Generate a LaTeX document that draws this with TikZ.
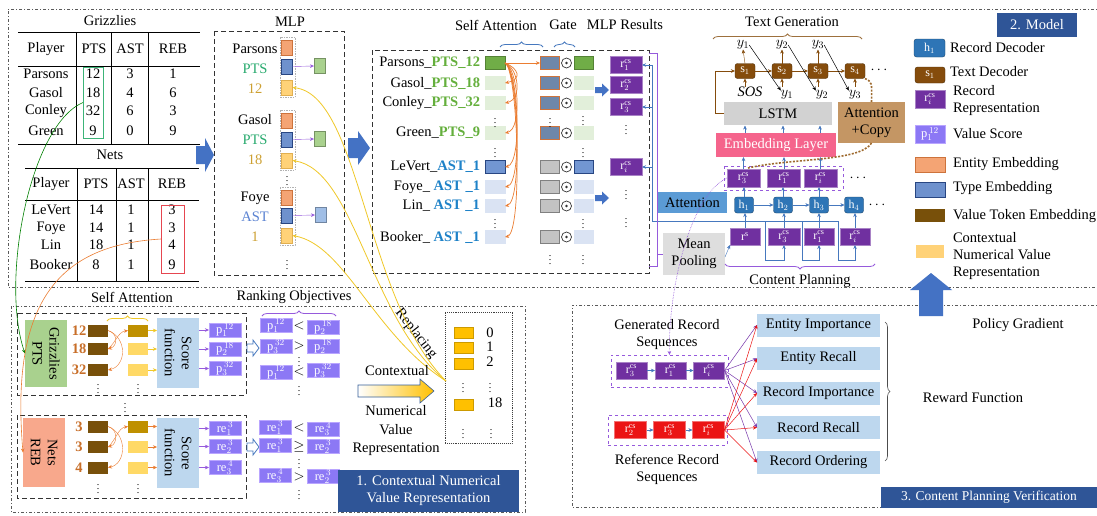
\documentclass[tikz,border=0pt]{standalone}
\usepackage{fontspec}
\setmainfont{Liberation Serif}
\usetikzlibrary{decorations.pathreplacing,arrows.meta,calc}
\definecolor{ptsg}{RGB}{40,170,110}
\definecolor{ptsg2}{RGB}{100,175,60}
\definecolor{astb}{RGB}{30,130,200}
\definecolor{astm}{RGB}{90,130,210}
\definecolor{numy}{RGB}{205,160,50}
\definecolor{entf}{RGB}{244,164,116}
\definecolor{entd}{RGB}{205,115,60}
\definecolor{typf}{RGB}{110,145,205}
\definecolor{typd}{RGB}{40,70,130}
\definecolor{cnvf}{RGB}{255,210,120}
\definecolor{cnvd}{RGB}{225,175,80}
\definecolor{mlpg}{RGB}{169,209,142}
\definecolor{mlpb}{RGB}{160,190,230}
\definecolor{dgreen}{RGB}{112,173,71}
\definecolor{lgreen}{RGB}{226,239,218}
\definecolor{lblue}{RGB}{218,227,243}
\definecolor{mblue}{RGB}{114,150,210}
\definecolor{gateb}{RGB}{110,135,170}
\definecolor{gateg}{RGB}{195,195,195}
\definecolor{rpur}{RGB}{112,48,160}
\definecolor{hblue}{RGB}{46,117,182}
\definecolor{sbrown}{RGB}{133,76,12}
\definecolor{lstmg}{RGB}{210,210,210}
\definecolor{embp}{RGB}{245,100,140}
\definecolor{attc}{RGB}{196,150,100}
\definecolor{attb}{RGB}{91,155,213}
\definecolor{meang}{RGB}{222,222,222}
\definecolor{pbox}{RGB}{140,120,245}
\definecolor{pboxd}{RGB}{185,165,255}
\definecolor{tblue}{RGB}{47,85,151}
\definecolor{metb}{RGB}{189,215,238}
\definecolor{netr}{RGB}{248,168,140}
\definecolor{vtok}{RGB}{120,80,10}
\definecolor{dgold}{RGB}{191,144,0}
\definecolor{lyel}{RGB}{255,217,102}
\definecolor{vgold}{RGB}{255,192,0}
\definecolor{barrow}{RGB}{68,114,196}
\definecolor{orarr}{RGB}{235,125,50}
\definecolor{tgreen}{RGB}{60,180,120}
\definecolor{tred}{RGB}{230,70,80}
\definecolor{framec}{RGB}{90,90,90}
\definecolor{redr}{RGB}{235,20,20}
\definecolor{lnblue}{RGB}{70,120,190}
\definecolor{lnpur}{RGB}{150,90,220}
\definecolor{ygold}{RGB}{240,200,40}
\definecolor{numo}{RGB}{200,110,40}
\tikzset{
  every node/.style={inner sep=0pt,outer sep=0pt},
  arr/.style={-{Stealth[length=4pt,width=3.5pt]}},
  frm/.style={draw=framec,line width=0.7pt,dash pattern=on 3pt off 2pt on 1pt off 2pt},
  dbox/.style={draw=gray!40!black,line width=1pt,dash pattern=on 5pt off 3pt},
  sbx/.style={draw=gray!60,line width=0.5pt,dash pattern=on 1.5pt off 1pt},
  sq/.style={minimum width=11pt,minimum height=15pt,line width=0.6pt},
  ent/.style={sq,fill=entf,draw=entd},
  typ/.style={sq,fill=typf,draw=typd},
  cnv/.style={sq,fill=cnvf,draw=cnvd},
  ab/.style={minimum width=20pt,minimum height=13pt,line width=0.7pt},
  odotc/.style={circle,draw=black!80,line width=0.7pt,minimum size=10pt},
  rb/.style={fill=rpur,draw=rpur!60!white,text=white,minimum width=32pt,minimum height=17pt,font=\fontsize{12}{12}\selectfont},
  hb/.style={rounded corners=2.5pt,fill=hblue,draw=hblue!60!black,text=white,minimum width=19pt,minimum height=16pt,font=\fontsize{12}{12}\selectfont},
  sb/.style={rounded corners=2.5pt,fill=sbrown,draw=sbrown!60!black,text=white,minimum width=20pt,minimum height=15pt,font=\fontsize{12}{12}\selectfont},
  pb/.style={fill=pbox,draw=pboxd,line width=0.8pt,text=white,minimum width=32pt,minimum height=14pt,font=\fontsize{12.5}{12}\selectfont},
  met/.style={fill=metb,minimum width=123pt,minimum height=23pt},
  ttl/.style={fill=tblue,text=white,align=center},
  vt/.style={fill=vtok,minimum width=20pt,minimum height=12pt},
  gd/.style={fill=dgold,minimum width=20pt,minimum height=12pt},
  ly/.style={fill=lyel,minimum width=20pt,minimum height=12pt},
  bl/.style={draw=lnblue,line width=0.6pt},
  dotsn/.style={font=\fontsize{10}{10}\selectfont},
  brc/.style={decorate,decoration={brace,amplitude=5pt},line width=0.8pt},
}
\begin{document}
\begin{tikzpicture}[x=1pt,y=-1pt,font=\fontsize{14.5}{17}\selectfont]
\useasboundingbox (0,0) rectangle (1097,515);
\fill[white] (0,0) rectangle (1097,515);
% ---------- frames
\draw[frm] (1110,9) -- (8,9) -- (8,287) -- (1110,287);
\draw[frm] (11,306) rectangle (525,512);
\draw[frm] (1110,305) -- (572,305) -- (572,507) -- (1110,507);

% ---------- Grizzlies table
\node (gT) at (110,21) {Grizzlies};
\draw[line width=0.8pt] (18,32)--(200,32) (18,66)--(200,66) (18,144)--(200,144);
\draw[line width=0.8pt] (76,32)--(76,144) (111,32)--(111,144) (148,32)--(148,144);
\foreach \t/\x [count=\i] in {Player/46,PTS/94,AST/130,REB/173} \node (gh\i) at (\x,49) {\t};
\foreach \n/\a/\b/\c/\y [count=\i] in {Parsons/12/3/1/74,Gasol/18/4/6/93,Conley/32/6/3/111,Green/9/0/9/131}{
  \node (gn\i) at (46,\y) {\n}; \node (ga\i) at (93,\y) {\a};
  \node (gb\i) at (130,\y) {\b}; \node (gc\i) at (173,\y) {\c};}
\node[draw=tgreen,line width=0.9pt,minimum width=20pt,minimum height=71pt] (gbox) at (93,102.5) {};
% ---------- Nets table
\node (nT) at (110,155) {Nets};
\draw[line width=0.8pt] (25,168)--(199,168) (25,200)--(199,200) (25,281)--(199,281);
\draw[line width=0.8pt] (77,168)--(77,281) (116,168)--(116,281) (148,168)--(148,281);
\foreach \t/\x [count=\i] in {Player/51,PTS/96,AST/131,REB/172} \node (nh\i) at (\x,184) {\t};
\foreach \n/\a/\b/\c/\y [count=\i] in {LeVert/14/1/3/210,Foye/14/1/3/228,Lin/18/1/4/245,Booker/8/1/9/265}{
  \node (nn\i) at (51,\y) {\n}; \node (na\i) at (96,\y) {\a};
  \node (nb\i) at (131,\y) {\b}; \node (nc\i) at (172,\y) {\c};}
\node[draw=tred,line width=0.9pt,minimum width=23pt,minimum height=68pt] (nbox) at (172.5,239) {};

% ---------- block arrows
\fill[barrow] (196,146) -- (205,146) -- (205,138) -- (214,155) -- (205,172) -- (205,164) -- (196,164) -- cycle;
\fill[barrow] (348,138) -- (358,138) -- (358,131) -- (370,148) -- (358,165) -- (358,158) -- (348,158) -- cycle;

% ---------- MLP
\node (mlpT) at (290,22) {MLP};
\draw[dbox] (214,31) rectangle (344,275);
\draw[sbx] (280,37) rectangle (295,97);
\draw[sbx] (280,110) rectangle (295,170);
\draw[sbx] (280,187) rectangle (295,245);
\node[ent] (e1) at (287,47.5) {}; \node[typ] (t1) at (287,66.5) {}; \node[cnv] (c1) at (287,87.5) {};
\node[ent] (e2) at (287,120.5) {}; \node[typ] (t2) at (287,139.5) {}; \node[cnv] (c2) at (287,160.5) {};
\node[ent] (e3) at (287,197.5) {}; \node[typ] (t3) at (287,215.5) {}; \node[cnv] (c3) at (287,235.5) {};
\node (ml1) at (255,49) {Parsons}; \node[text=ptsg] (ml2) at (255,69) {PTS}; \node[text=numy] (ml3) at (255,89) {12};
\node (ml4) at (255,120) {Gasol}; \node[text=ptsg] (ml5) at (255,140) {PTS}; \node[text=numy] (ml6) at (255,160) {18};
\node (ml7) at (255,198) {Foye}; \node[text=astm] (ml8) at (255,217) {AST}; \node[text=numy] (ml9) at (255,237) {1};
\node[sq,fill=mlpg,draw=mlpg!70!black] (g1) at (319.5,66) {};
\node[sq,fill=mlpg,draw=mlpg!70!black] (g2) at (319.5,139) {};
\node[sq,fill=mlpb,draw=mlpb!70!black] (g3) at (320.5,215) {};
\draw[arr,lnpur] (t1.east) -- (g1.west);
\draw[arr,lnpur] (t2.east) -- (g2.west);
\draw[arr,lnpur] (t3.east) -- (g3.west);
\node[dotsn] (md1) at (287,178) {$\vdots$};
\node[dotsn] (md2) at (287,262) {$\vdots$};

% ---------- Self attention block
\node (saL) at (496,25) {Self Attention};
\node (gaL) at (563,25) {Gate};
\node (mrL) at (625,25) {MLP Results};
\draw[brc,draw=lnblue] (500,47) -- (543,47);
\draw[brc,draw=lnblue] (554,47) -- (575,47);
\draw[dbox] (372,50) rectangle (649,273);
\foreach \y/\nm/\tg/\tc/\ca/\da/\cg/\dg [count=\i] in {
 63/{Parsons\_}/{PTS\_12}/ptsg2/dgreen/dgreen!75!black/gateb/entd,
 83/{Gasol\_}/{PTS\_18}/ptsg2/lgreen/lgreen/gateb/entd,
 103/{Conley\_}/{PTS\_32}/ptsg2/lgreen/lgreen/gateb/entd,
 133/{Green\_}/{PTS\_9}/ptsg2/lgreen/lgreen/gateb/entd,
 167/{LeVert\_}/{AST\_1}/astb/mblue/typd/gateg/gray,
 187/{Foye\_ }/{AST \_1}/astb/lblue/lblue/gateg/gray,
 206/{Lin\_ }/{AST \_1}/astb/lblue/lblue/gateg/gray,
 237/{Booker\_ }/{AST \_1}/astb/lblue/lblue/gateg/gray}{
 \node[anchor=east] (sn\i) at (480,\y) {\nm\textcolor{\tc}{\textbf{\tg}}};
 \node[ab,fill=\ca,draw=\da] (sa\i) at (495,\y) {};
 \node[ab,minimum width=19pt,fill=\cg,draw=\dg] (sg\i) at (549.5,\y) {};
 \node[odotc] (so\i) at (566.5,\y) {};
 \fill[black!80] (so\i.center) circle (1.3pt);
 \node[ab,minimum width=19pt,fill=\ca,draw=\da] (sm\i) at (583.5,\y) {};
}
\foreach \x/\y [count=\i] in {495/120,495/150,495/221,550/120,550/257,583/118,583/150,583/221,583/257}
  \node[dotsn] (sd\i) at (\x,\y) {$\vdots$};
\draw[arr,orarr] (sa1.east) -- (sg1.west);
\foreach \k in {2,...,8}{
  \draw[arr,orarr,line width=0.7pt] (sa1.east) .. controls (518,68) and ($(sa\k.east)+(18,-4)$) .. (sa\k.east);
}
\node[rb] (sr1) at (626,65) {r$_1^{\mathrm{cs}}$};
\node[rb] (sr2) at (626,85) {r$_2^{\mathrm{cs}}$};
\node[rb] (sr3) at (626,107) {r$_3^{\mathrm{cs}}$};
\node[rb] (sri) at (626,167) {r$_i^{\mathrm{cs}}$};
\node[dotsn] (rd1) at (626,127) {$\vdots$};
\node[dotsn] (rd2) at (626,192) {$\vdots$};
\node[dotsn] (rd3) at (626,220) {$\vdots$};
\fill[barrow] (595,87) -- (602,87) -- (602,83.5) -- (609,90) -- (602,96.5) -- (602,93) -- (595,93) -- cycle;
\fill[barrow] (595,195) -- (602,195) -- (602,191.5) -- (609,198) -- (602,204.5) -- (602,201) -- (595,201) -- cycle;

% ---------- model
\node (tgL) at (792,22) {Text Generation};
\draw[brc,draw=sbrown!80] (713,39) -- (862,39);
\node[sb] (s1) at (745,71) {s$_1$};
\node[sb] (s2) at (782,71) {s$_2$};
\node[sb] (s3) at (818,71) {s$_3$};
\node[sb] (s4) at (855,71) {s$_4$};
\node (sdt) at (879,70) {$\cdots$};
\node (ya1) at (743,45) {$y_1$};
\node (ya2) at (782,45) {$y_2$};
\node (ya3) at (818,45) {$y_3$};
\node (sos) at (750,92) {\textit{SOS}};
\node (yb1) at (787,95) {$y_1$};
\node (yb2) at (822,95) {$y_2$};
\node (yb3) at (855,95) {$y_3$};
\foreach \k in {1,2,3}{\draw[arr,sbrown] (s\k.north) -- (ya\k.south);}
\foreach \k in {1,2,3,4}{\draw[arr,sbrown] ($(s\k.south)+(0,8)$) -- (s\k.south);}
\draw[arr,sbrown] (s1) -- (s2);
\draw[arr,sbrown] (s2) -- (s3);
\draw[arr,sbrown] (s3) -- (s4);
\draw[arr,black,line width=0.5pt] (ya1.east) -- (yb1.north west);
\draw[arr,black,line width=0.5pt] (ya2.east) -- (yb2.north west);
\draw[arr,black,line width=0.5pt] (ya3.east) -- (yb3.north west);
\node[fill=lstmg,minimum width=108pt,minimum height=23pt] (lstm) at (778,113.5) {LSTM};
\draw[arr,sbrown] (lstm.west) -- (715,113.5) -- (715,71) -- (s1.west);
\node[fill=attc,minimum width=67pt,minimum height=41pt,align=center] (ac) at (871.5,122.5) {Attention\\+Copy};
\node[fill=embp,text=white,minimum width=120pt,minimum height=24pt] (emb) at (776,145) {Embedding Layer};
\foreach \x in {745,783,820}{\draw[arr,lnblue] (\x,133) -- (\x,125.5);}
\draw[dashed,lnpur,line width=0.8pt] (724,166) rectangle (843,190);
\node[rb,minimum width=33pt,minimum height=18pt] (tr3) at (743.5,178) {r$_3^{\mathrm{cs}}$};
\node[rb,minimum width=33pt,minimum height=18pt] (tr1) at (784,178) {r$_1^{\mathrm{cs}}$};
\node[rb,minimum width=33pt,minimum height=18pt] (tri) at (820.5,178) {r$_i^{\mathrm{cs}}$};
\node (trd) at (858,178) {$\cdots$};
\draw[arr,lnblue] (tr3.north) -- (743.5,157);
\draw[arr,lnblue] (tr1.north) -- (784,157);
\draw[arr,lnblue] (tri.north) -- (820.5,157);
\draw[sbrown!60!attc,line width=1.6pt,dash pattern=on 2pt off 1.5pt] (s4.south east) .. controls (872,82) .. (ac.north);
\draw[sbrown!60!attc,line width=1.6pt,dash pattern=on 2pt off 1.5pt] (ac.south) .. controls (860,162) and (790,158) .. (748,168);
\node[hb] (h1) at (744,205) {h$_1$};
\node[hb] (h2) at (783,205) {h$_2$};
\node[hb] (h3) at (819,205) {h$_3$};
\node[hb] (h4) at (854,205) {h$_4$};
\node (hdt) at (877,205) {$\cdots$};
\draw[arr,lnblue] (h1) -- (h2);
\draw[arr,lnblue] (h2) -- (h3);
\draw[arr,lnblue] (h3) -- (h4);
\draw[arr,lnblue] (h1.north) -- (h1.north |- tr3.south);
\draw[arr,lnblue] (h2.north) -- (h2.north |- tr1.south);
\draw[arr,lnblue] (h3.north) -- (h3.north |- tri.south);
\node[rb,minimum width=30pt] (brs) at (745,236.5) {r$^{\mathrm{s}}$};
\node[rb] (br3) at (784,236.5) {r$_3^{\mathrm{cs}}$};
\node[rb,minimum width=30pt] (br1) at (819,236.5) {r$_1^{\mathrm{cs}}$};
\node[rb,minimum width=30pt] (bri) at (855,236.5) {r$_i^{\mathrm{cs}}$};
\draw[arr,lnblue] (brs.north) -- (brs.north |- h1.south);
\draw[arr,lnblue] (br3.north) -- (br3.north |- h2.south);
\draw[arr,lnblue] (br1.north) -- (br1.north |- h3.south);
\draw[arr,lnblue] (bri.north) -- (bri.north |- h4.south);
\node[fill=attb,minimum width=69pt,minimum height=21pt] (att) at (692.5,202.5) {Attention};
\node[fill=meang,minimum width=62pt,minimum height=42pt,align=center] (mp) at (694,254) {Mean\\Pooling};
\draw[arr,lnblue] (725,257) -- (brs.south west);
\draw[bl] (652,65) -- (652,221) -- (838,221);
\draw[bl,arr] (652,65) -- (sr1.east);
\draw[bl,arr] (652,107) -- (sr3.east);
\draw[bl,arr] (652,167) -- (sri.east);
\draw[bl,arr] (765,221) -- (765,260) -- (784,260) -- (br3.south);
\draw[bl,arr] (802,221) -- (802,260) -- (819,260) -- (br1.south);
\draw[bl,arr] (838,221) -- (838,260) -- (855,260) -- (bri.south);
\draw[draw=lnpur,line width=0.7pt] (649,53) -- (657,53) -- (657,266) -- (649,266);
\draw[draw=lnpur,line width=0.7pt] (657,254) -- (mp.west);
\draw[brc,draw=lnpur] (875,264) -- (725,264);
\node (cpL) at (800,281) {Content Planning};

% ---------- legend
\node[ttl,minimum width=80pt,minimum height=24pt] (mT) at (1037,25) {2. Model};
\node[hb,minimum width=31pt,minimum height=18pt] (lh) at (929.5,48) {h$_1$};
\node[anchor=west] (lhL) at (950,48) {Record Decoder};
\node[sb,minimum width=30pt,minimum height=16pt] (ls) at (930,75) {s$_1$};
\node[anchor=west] (lsL) at (950,72) {Text Decoder};
\node[rb,minimum width=30pt,minimum height=18pt] (lr) at (930,99) {r$_i^{\mathrm{cs}}$};
\node[anchor=west,align=left] (lrL) at (953,101) {Record\\Representation};
\node[pb,minimum width=30pt,minimum height=18pt] (lp) at (930,134) {p$_1^{\,12}$};
\node[anchor=west] (lpL) at (953,134) {Value Score};
\node[fill=entf,draw=entd,line width=0.6pt,minimum width=30pt,minimum height=15pt] (le) at (930,164.5) {};
\node[anchor=west] (leL) at (953,164) {Entity Embedding};
\node[fill=typf,draw=typd,line width=0.6pt,minimum width=30pt,minimum height=15pt] (lt) at (930,189.5) {};
\node[anchor=west] (ltL) at (953,188) {Type Embedding};
\node[fill=vtok,minimum width=30pt,minimum height=13pt] (lv) at (930,215.5) {};
\node[anchor=west] (lvL) at (953,216) {Value Token Embedding};
\node[fill=cnvf,minimum width=28pt,minimum height=13pt] (lc) at (930,251.5) {};
\node[anchor=west,align=left] (lcL) at (953,256) {Contextual\\Numerical Value\\Representation};
\fill[barrow] (919,316) -- (919,290) -- (910,290) -- (931,273) -- (952,290) -- (943,290) -- (943,316) -- cycle;

% ---------- bottom left: contextual numerical value
\node (saL2) at (132,297) {Self Attention};
\draw[brc,draw=ygold] (107,321) -- (148,321);
\node (roL) at (294,297) {Ranking Objectives};
\draw[brc,draw=lnpur] (262,316) -- (336,316);
\draw[dbox] (17,313) rectangle (246,395);
\draw[dbox] (17,415) rectangle (246,498);
\node[dotsn] (bd0) at (125,405) {$\vdots$};
\node[fill=mlpg,rotate=-90,minimum width=67pt,minimum height=42pt,align=center] (gpts) at (46,353.5) {Grizzlies\\PTS};
\node[fill=netr,rotate=-90,minimum width=69pt,minimum height=42pt,align=center] (nreb) at (44,452.5) {Nets\\REB};
\node[fill=metb,rotate=-90,minimum width=70pt,minimum height=42pt,align=center] (sf1) at (178,353) {Score\\function};
\node[fill=metb,rotate=-90,minimum width=70pt,minimum height=42pt,align=center] (sf2) at (178,453) {Score\\function};
\foreach \v/\y [count=\i] in {12/330.5,18/349,32/370}{
  \node[text=numo,font=\fontsize{14.5}{17}\bfseries] (bn\i) at (79,\y) {\v};
  \node[vt] (bv\i) at (98,\y) {};}
\node[gd] (bm1) at (138,330.5) {}; \node[ly] (bm2) at (138,349) {}; \node[ly] (bm3) at (138,370) {};
\foreach \v/\y [count=\i] in {3/426.5,3/447,4/467.5}{
  \node[text=numo,font=\fontsize{14.5}{17}\bfseries] (cn\i) at (79,\y) {\v};
  \node[vt] (cv\i) at (98,\y) {};}
\node[gd] (cm1) at (138,426.5) {}; \node[ly] (cm2) at (138,447) {}; \node[ly] (cm3) at (138,467.5) {};
\foreach \x/\y [count=\i] in {98/386,138/386,98/486,138/486}\node[dotsn] (bdd\i) at (\x,\y) {$\vdots$};
\draw[arr,orarr] (bv1.east) .. controls (118,333) and (118,346) .. (bv2.east);
\draw[arr,orarr] (bv1.east) .. controls (128,338) and (126,366) .. (bv3.east);
\draw[arr,orarr] (bv2.east) .. controls (116,342) and (118,332) .. (bm1.west);
\draw[arr,orarr] (cv1.east) .. controls (118,429) and (118,444) .. (cv2.east);
\draw[arr,orarr] (cv1.east) .. controls (128,434) and (126,464) .. (cv3.east);
\draw[arr,orarr] (cv2.east) .. controls (116,440) and (118,428) .. (cm1.west);
\foreach \i/\y in {1/330.5,2/349,3/370}{\draw[arr,ygold] (bm\i.east) -- (157,\y);}
\foreach \i/\y in {1/426.5,2/447,3/467.5}{\draw[arr,orarr] (cm\i.east) -- (157,\y);}
\node[pb] (bp1) at (225,330) {p$_1^{\,12}$};
\node[pb] (bp2) at (225,349) {p$_2^{\,18}$};
\node[pb] (bp3) at (225,368.5) {p$_3^{\,32}$};
\node[pb] (bq1) at (225,428.5) {re$_1^{\,3}$};
\node[pb] (bq2) at (225,446.5) {re$_2^{\,3}$};
\node[pb] (bq3) at (225,467.5) {re$_3^{\,4}$};
\foreach \k in {1,2,3}{
  \draw[arr,lnpur] (sf1.north |- bp\k) -- (bp\k.west);
  \draw[arr,lnpur] (sf2.north |- bq\k) -- (bq\k.west);}
\draw[draw=lnblue,fill=white,line width=0.8pt] (247,344) -- (253,344) -- (253,340) -- (259,348) -- (253,356) -- (253,352) -- (247,352) -- cycle;
\draw[draw=lnblue,fill=white,line width=0.8pt] (247,443) -- (253,443) -- (253,439) -- (259,447) -- (253,455) -- (253,451) -- (247,451) -- cycle;
\node[pb] (rl1) at (276,325.5) {p$_1^{\,12}$};
\node[pb] (rl2) at (276,346.5) {p$_3^{\,32}$};
\node[pb] (rl3) at (276,372.5) {p$_1^{\,12}$};
\node[pb] (rr1) at (323,327.5) {p$_2^{\,18}$};
\node[pb] (rr2) at (323,346.5) {p$_2^{\,18}$};
\node[pb] (rr3) at (323,370.5) {p$_3^{\,32}$};
\node (rc1) at (299,326) {$<$};
\node (rc2) at (299,346) {$>$};
\node (rc3) at (299,372) {$<$};
\node[pb] (rl4) at (275,427.5) {re$_1^{\,3}$};
\node[pb] (rl5) at (275,445.5) {re$_1^{\,3}$};
\node[pb] (rl6) at (275,475.5) {re$_3^{\,4}$};
\node[pb] (rr4) at (323,429) {re$_3^{\,4}$};
\node[pb] (rr5) at (323,446.5) {re$_2^{\,3}$};
\node[pb] (rr6) at (323,476.5) {re$_2^{\,3}$};
\node (rc4) at (299,428) {$<$};
\node (rc5) at (299,447) {$\geq$};
\node (rc6) at (299,477) {$>$};
\foreach \y [count=\i] in {359,388,461,492}\node[dotsn] (rcd\i) at (299,\y) {$\vdots$};

% ---------- bottom middle
\node[rotate=-52] (repL) at (416,334) {Replacing};
\node[draw=gray!50!black,densely dotted,line width=0.9pt,minimum width=67pt,minimum height=131pt] (voc) at (478.5,377.5) {};
\node[fill=vgold,draw=vgold!80!black,minimum width=19pt,minimum height=11pt] (vb0) at (463.5,332.5) {};
\node[fill=vgold,draw=vgold!80!black,minimum width=19pt,minimum height=11pt] (vb1) at (463.5,347.5) {};
\node[fill=vgold,draw=vgold!80!black,minimum width=19pt,minimum height=11pt] (vb2) at (463.5,364) {};
\node[fill=vgold,draw=vgold!80!black,minimum width=19pt,minimum height=11pt] (vb18) at (463.5,405) {};
\node (vn0) at (490,333) {0};
\node (vn1) at (490,347) {1};
\node (vn2) at (490,362) {2};
\node (vn18) at (495,403) {18};
\foreach \x/\y [count=\i] in {463/385,490/385,463/431,491/431}\node[dotsn] (vd\i) at (\x,\y) {$\vdots$};
\coordinate (vin) at (446,381);
\draw[arr,ygold,line width=0.8pt] (vin) .. controls (365,300) and (360,95) .. (c1.east);
\draw[arr,ygold,line width=0.8pt] (vin) .. controls (370,320) and (355,170) .. (c2.east);
\draw[arr,ygold,line width=0.8pt] (vin) .. controls (374,335) and (345,245) .. (c3.east);
\shade[left color=white,right color=vgold,draw=lnblue!80!black,line width=0.6pt] (358,385) -- (420,385) -- (420,379) -- (434,391) -- (420,403) -- (420,397) -- (358,397) -- cycle;
\node (ctxL) at (397,371) {Contextual};
\node[align=center,font=\fontsize{14.5}{18.5}\selectfont] (nvrL) at (396,431) {Numerical\\Value\\Representation};
\node[ttl,minimum width=181pt,minimum height=42pt] (t1) at (428.5,491) {1. Contextual Numerical\\Value Representation};

% ---------- left connectors
\draw[arr,green!50!black,line width=0.6pt] (gbox.west) .. controls (30,125) and (0,280) .. (gpts.south);
\draw[arr,orarr,line width=0.6pt] (nbox.west) .. controls (60,245) and (10,300) .. (nreb.south);

% ---------- bottom right
\node[align=center] (genL) at (667,335) {Generated Record\\Sequences};
\node[draw=lnpur,dashed,line width=0.8pt,minimum width=117pt,minimum height=32pt] (genbox) at (669.5,371) {};
\node[rb,minimum width=31pt] (q3) at (631.5,370.5) {r$_3^{\mathrm{cs}}$};
\node[rb,minimum width=31pt] (q1) at (670.5,370.5) {r$_1^{\mathrm{cs}}$};
\node[rb,minimum width=31pt] (qi) at (709,370.5) {r$_i^{\mathrm{cs}}$};
\draw[arr,lnblue] (q3.east) -- (q1.west);
\draw[arr,lnblue] (q1.east) -- (qi.west);
\node[draw=lnpur,dashed,line width=0.8pt,minimum width=119pt,minimum height=30pt] (refbox) at (667.5,430) {};
\node[rb,fill=redr,draw=redr!60!white] (f2) at (630.5,430) {r$_2^{\mathrm{cs}}$};
\node[rb,fill=redr,draw=redr!60!white] (f3) at (669.5,430) {r$_3^{\mathrm{cs}}$};
\node[rb,fill=redr,draw=redr!60!white] (fi) at (708.5,430) {r$_i^{\mathrm{cs}}$};
\draw[arr,lnblue] (f2.east) -- (f3.west);
\draw[arr,lnblue] (f3.east) -- (fi.west);
\node[align=center] (refL) at (667,469.5) {Reference Record\\Sequences};
\node[met] (me1) at (818.5,325) {Entity Importance};
\node[met] (me2) at (818.5,358.5) {Entity Recall};
\node[met] (me3) at (818.5,393) {Record Importance};
\node[met] (me4) at (818.5,427.5) {Record Recall};
\node[met] (me5) at (818.5,462.5) {Record Ordering};
\foreach \k in {1,...,5}{\draw[arr,rpur!80!lnpur,line width=0.5pt] (qi.east) -- (me\k.west);}
\foreach \k in {1,...,5}{\draw[arr,redr,line width=0.5pt] (fi.east) -- (me\k.west);}
\draw[decorate,decoration={brace,amplitude=5pt},draw=gray!60!black,line width=0.6pt] (885,322) -- (885,461);
\node (rwL) at (973,398) {Reward Function};
\node (pgL) at (1018,325) {Policy Gradient};
\node[ttl,minimum width=216pt,minimum height=21pt,font=\fontsize{13.5}{15}\selectfont] (t3) at (989,497.5) {3. Content Planning Verification};
\draw[arr,lnpur,densely dotted,line width=0.6pt] (tr3.west) .. controls (690,195) and (668,290) .. (genbox.north);
\end{tikzpicture}
\end{document}
